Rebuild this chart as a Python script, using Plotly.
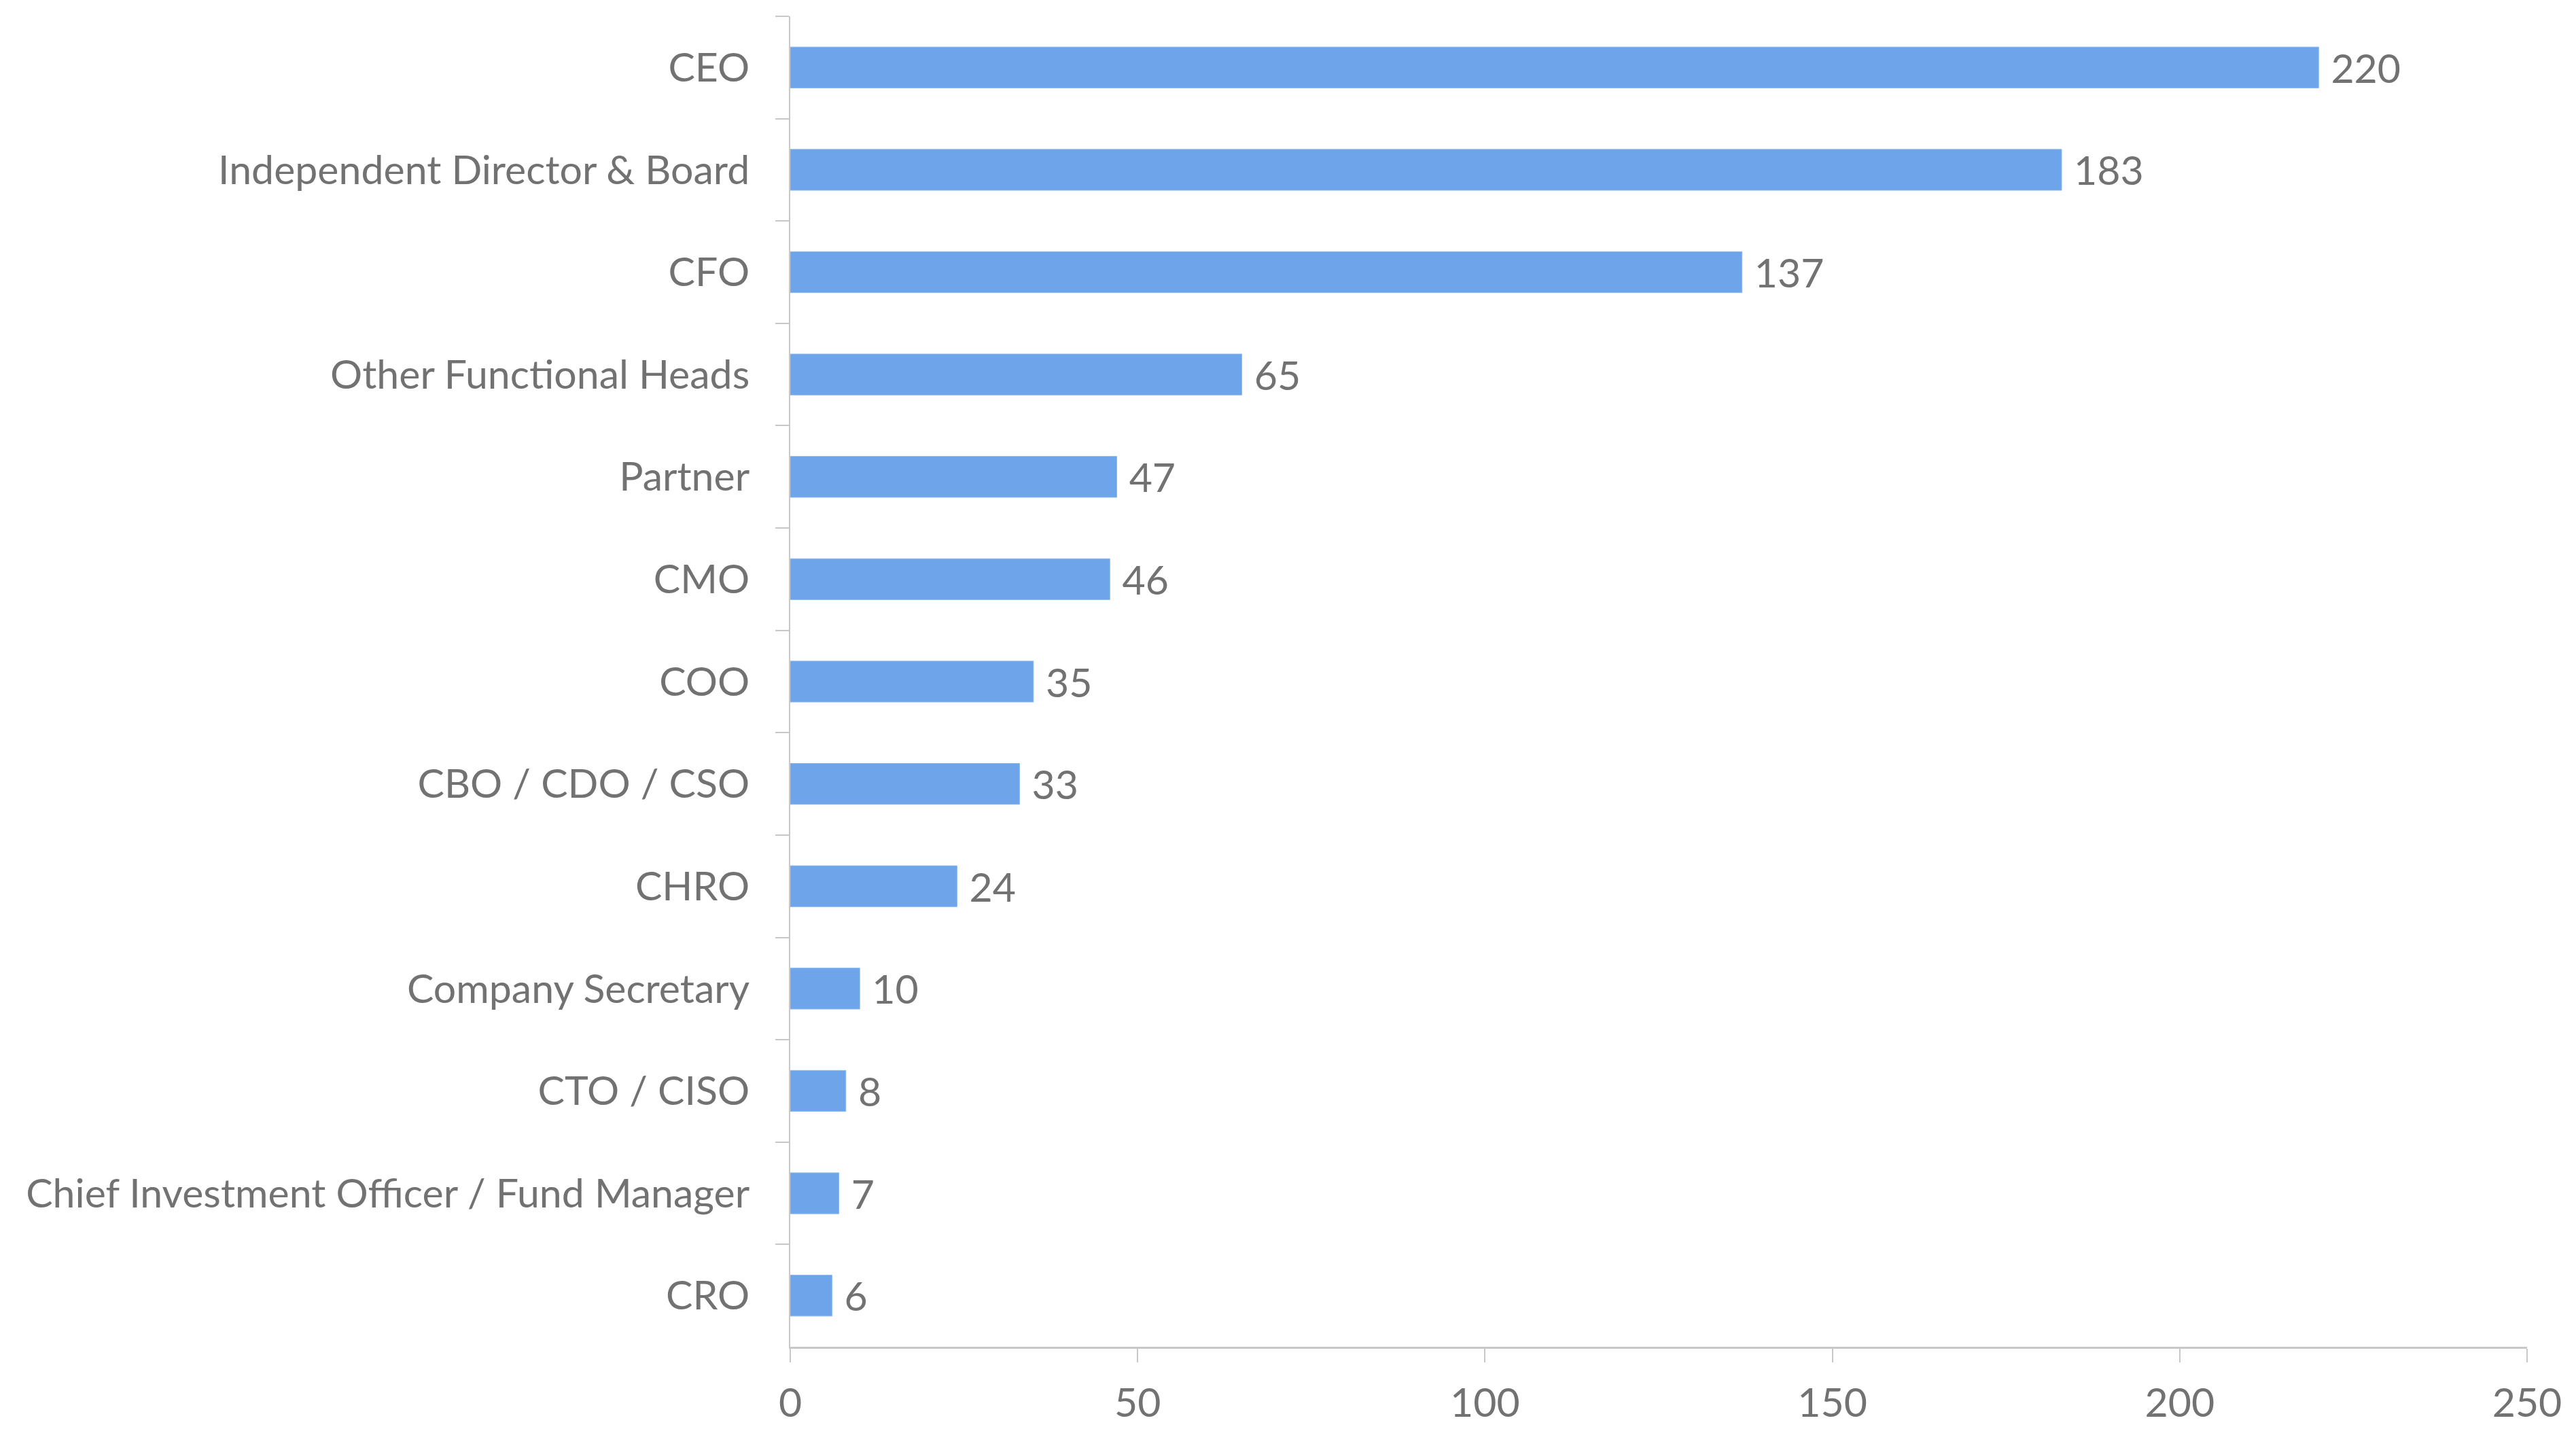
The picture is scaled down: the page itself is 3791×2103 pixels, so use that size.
import plotly.graph_objects as go

categories = ["CEO", "Independent Director & Board", "CFO", "Other Functional Heads",
              "Partner", "CMO", "COO", "CBO / CDO / CSO", "CHRO", "Company Secretary",
              "CTO / CISO", "Chief Investment Officer / Fund Manager", "CRO"]
values = [220, 183, 137, 65, 47, 46, 35, 33, 24, 10, 8, 7, 6]
x_ticks = [0, 50, 100, 150, 200, 250]

FONT = "Lato"
TXT = "#727272"
AX = "#C8C8C8"
FS = 59

fig = go.Figure(go.Bar(
    x=values, y=categories, orientation="h",
    width=0.4,
    marker=dict(color="#6DA4EA", line=dict(color="#8AB8F0", width=1)),
    text=values, texttemplate="\u00a0%{x}", textposition="outside",
    textfont=dict(family=FONT, size=FS, color=TXT),
    cliponaxis=False,
))

fig.update_layout(
    template="none",
    width=3791, height=2103,
    margin=dict(l=1163, r=72, t=24, b=121, pad=0),
    paper_bgcolor="white", plot_bgcolor="white",
    showlegend=False,
    bargap=0.6,
    uniformtext=dict(minsize=FS, mode="show"),
)
fig.update_xaxes(
    range=[0, 250], tickvals=x_ticks, ticktext=[str(v) for v in x_ticks],
    showgrid=False, zeroline=False, automargin=False,
    showline=True, linecolor=AX, linewidth=3,
    ticks="outside", ticklen=20, tickcolor=AX, tickwidth=2,
    tickfont=dict(family=FONT, size=FS, color=TXT),
    ticklabelstandoff=9,
)
fig.update_yaxes(
    categoryorder="array", categoryarray=categories, autorange="reversed",
    showgrid=False, zeroline=False, automargin=False,
    showline=True, linecolor=AX, linewidth=2,
    ticks="outside", ticklen=20, tickcolor=AX, tickwidth=2,
    tickson="boundaries",
    tickfont=dict(family=FONT, size=FS, color=TXT),
    ticklabelstandoff=46,
)

fig.write_html(
    "out.html",
    config={"displayModeBar": False},
    post_script="document.body.style.margin='0';document.body.style.overflow='hidden';",
)
